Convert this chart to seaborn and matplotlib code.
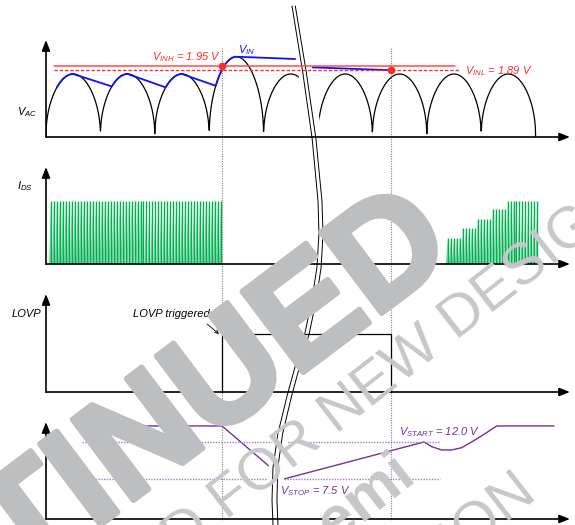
import numpy as np
import pandas as pd
import matplotlib
matplotlib.use("Agg")
import matplotlib.pyplot as plt
import matplotlib.transforms as mtransforms
import matplotlib.patheffects as pe
import seaborn as sns

# ---------------- data (time unit = one rectified line half-cycle) ----------------
vac_crest_v = [1.84, 1.84, 1.84, 2.07, 1.84, 1.84, 1.84, 1.84, 1.84]
vac_floor_v = 1.0

vin_join_t = [0.20, 1.21, 2.20, 3.12]      # where V_IN rides on V_AC again
vin_hold_end_t = 4.58
vin_hold_end_v = 2.04
vin_late_t = [4.85, 6.34]
vin_late_v = [1.93, 1.89]

v_inh = 1.95
v_inl = 1.89
t_lovp_on = 3.235
t_lovp_off = 6.34

ids_left_count = 58
ids_left_start_t = 0.055
ids_period_t = 0.0548
ids_left_level = 1.0
ids_right_start_t = 7.35
ids_right_counts = [5, 5, 5, 5, 11]
ids_right_levels = [0.41, 0.57, 0.72, 0.87, 1.0]

lovp_t = [3.235, 3.235, 6.34, 6.34]
lovp_v = [0, 1, 1, 0]

vcc_t = [0.643, 3.235, 4.375, 6.949, 7.09, 7.274, 7.458, 7.642, 7.886, 8.125, 8.285, 9.338]
vcc_v = [13.95, 13.95, 7.5, 12.0, 11.43, 11.03, 11.03, 11.31, 12.24, 13.25, 13.95, 13.95]
v_start = 12.0
v_stop = 7.5

# ---------------- style ----------------
sns.set_theme(style="white")
plt.rcParams["font.family"] = ["Liberation Sans", "DejaVu Sans"]
plt.rcParams["mathtext.fontset"] = "custom"
plt.rcParams["mathtext.it"] = "Liberation Sans:italic"
plt.rcParams["mathtext.rm"] = "Liberation Sans:italic"
plt.rcParams["mathtext.default"] = "it"

RED = "#ff2a2a"
BLUE = "#1010ff"
GREEN = "#00b050"
PURPLE = "#7030a0"
PURPLE_L = "#a378d0"
WM = "#bdbec0"
WM2 = "#c6c7c9"

W, H = 575, 525
fig = plt.figure(figsize=(5.75, 5.25), dpi=100)
fig.patch.set_facecolor("white")


def px_axes(l, r, t, b):
    return fig.add_axes([l / W, 1 - b / H, (r - l) / W, (b - t) / H])


T_MAX = (570 - 46) / 54.4
ax1 = px_axes(46, 570, 40, 137)
ax2 = px_axes(46, 570, 167, 264)
ax3 = px_axes(46, 570, 294, 392)
ax4 = px_axes(46, 570, 422, 519)
limits = [(1.0, 2.293), (0, 1.54), (0, 1.69), (2.633, 14.43)]
for ax, yl in zip([ax1, ax2, ax3, ax4], limits):
    ax.set_xlim(0, T_MAX)
    ax.set_ylim(*yl)
    ax.axis("off")
    ax.patch.set_alpha(0)


def vac(t):
    t = np.asarray(t, dtype=float)
    k = np.clip(np.floor(t).astype(int), 0, len(vac_crest_v) - 1)
    u = t - k
    crest = np.array(vac_crest_v)[k]
    return vac_floor_v + (crest - vac_floor_v) * np.clip(np.sin(np.pi * u), 0, None) ** 0.45


# ---- panel 1: V_AC and V_IN ----
tt = np.linspace(0, len(vac_crest_v), 2400)
sns.lineplot(x=tt, y=vac(tt), ax=ax1, color="black", lw=0.9, estimator=None, sort=False)

vin_x, vin_y = [], []
for i, tj in enumerate(vin_join_t):
    k = int(np.floor(tj))
    seg = np.linspace(tj, k + 0.5, 40)
    vin_x += list(seg)
    vin_y += list(vac(seg))
    if i + 1 < len(vin_join_t):
        nxt = vin_join_t[i + 1]
        vin_x.append(nxt)
        vin_y.append(float(vac(nxt)))
    else:
        vin_x.append(vin_hold_end_t)
        vin_y.append(vin_hold_end_v)
sns.lineplot(x=vin_x, y=vin_y, ax=ax1, color=BLUE, lw=1.3, estimator=None, sort=False)
sns.lineplot(x=vin_late_t, y=vin_late_v, ax=ax1, color=BLUE, lw=1.3, estimator=None, sort=False)

# ---- panel 2: I_DS pulses ----
def pulse_poly(starts, levels, w):
    xs, ys = [], []
    for s, h in zip(starts, levels):
        xs += [s, s + w, s + w]
        ys += [0, h, 0]
    return xs, ys


w = ids_period_t * 0.7
left_starts = [ids_left_start_t + i * ids_period_t for i in range(ids_left_count)]
left_levels = [ids_left_level] * ids_left_count
right_starts, right_levels = [], []
s = ids_right_start_t
for n, lv in zip(ids_right_counts, ids_right_levels):
    for _ in range(n):
        right_starts.append(s)
        right_levels.append(lv)
        s += ids_period_t
for st, lv in [(left_starts, left_levels), (right_starts, right_levels)]:
    xs, ys = pulse_poly(st, lv, w)
    ax2.fill(xs, ys, color=GREEN, alpha=0.55, lw=0)
    ax2.vlines([x + w for x in st], 0, lv, color=GREEN, lw=1.0)

# ---- panel 4: VCC ----
sns.lineplot(x=vcc_t, y=vcc_v, ax=ax4, color=PURPLE, lw=1.0, estimator=None, sort=False)
ax4.plot([0.66, 7.25], [v_start, v_start], color=PURPLE_L, lw=1.0, ls=(0, (1, 1)))
ax4.plot([0.49, 7.25], [v_stop, v_stop], color=PURPLE_L, lw=1.0, ls=(0, (1, 1)))

# ---------------- overlay (pixel coordinates) ----------------
ov = fig.add_axes([0, 0, 1, 1], zorder=10)
ov.patch.set_alpha(0)
ov.set_autoscale_on(False)
ov.set_xlim(0, W)
ov.set_ylim(H, 0)
ov.axis("off")

# vertical dotted markers
blend = mtransforms.blended_transform_factory(ax1.transData, ov.transData)
for tv in [t_lovp_on, t_lovp_off]:
    ov.plot([tv, tv], [48, 520], transform=blend, color="#808080", lw=0.8,
            ls=(0, (1, 1.2)), zorder=1)

# time-axis break
break_y = [6, 67, 137, 200, 233, 267, 300, 333, 360, 392, 433, 467, 500, 525]
break_x = [292, 302, 312, 318, 319, 317, 312, 305, 297, 288, 278, 273, 272, 273]
yg = np.linspace(6, 525, 400)
cx = np.interp(yg, break_y, break_x)
sep = np.interp(yg, [0, 525], [3.3, 5.0])
ov.fill_betweenx(yg, cx - 5, cx + sep + 6, color="white", lw=0, zorder=2)
ov.plot(cx, yg, color="black", lw=0.7, zorder=3)
ov.plot(cx + sep, yg, color="black", lw=0.7, zorder=3)

# thresholds (drawn over the break)
ov.plot([0.147, 7.52], [v_inh, v_inh], transform=ax1.transData, color="#ff4a4a", lw=1.1, zorder=4)
ov.plot([0.147, 7.61], [v_inl, v_inl], transform=ax1.transData, color=RED, lw=1.0,
        ls=(0, (2.4, 1.4)), zorder=4)
ov.plot([t_lovp_on, t_lovp_off], [v_inh, v_inl], "o", transform=ax1.transData,
        color=RED, ms=4.5, zorder=5)

# LOVP step
ov.plot(lovp_t, lovp_v, transform=ax3.transData, color="black", lw=0.9, zorder=4)

# axes with arrow heads
for ax in [ax1, ax2, ax3, ax4]:
    for xy in [(0, 1), (1, 0)]:
        ov.annotate("", xy=xy, xycoords=ax.transAxes, xytext=(0, 0), textcoords=ax.transAxes,
                    arrowprops=dict(arrowstyle="-|>,head_length=0.9,head_width=0.35",
                                    lw=1.2, color="black", shrinkA=0, shrinkB=0,
                                    mutation_scale=7),
                    annotation_clip=False, zorder=4)

# labels
tk = dict(fontsize=8, style="italic", va="baseline", ha="left", zorder=6)
ov.text(17, 115, r"$V_{AC}$", color="black", **tk)
ov.text(17, 189, r"$I_{DS}$", color="black", **tk)
ov.text(12, 317, "LOVP", color="black", **tk)
ov.text(133, 317, "LOVP triggered", color="black", **tk)
ov.annotate("", xy=(219, 334), xytext=(207, 324),
            arrowprops=dict(arrowstyle="->", lw=0.6, color="black", shrinkA=0, shrinkB=0,
                            mutation_scale=6), zorder=6)
ov.text(152, 60, r"$V_{INH}$ = 1.95 V", color=RED, **tk)
ov.text(238, 53, r"$V_{IN}$", color=BLUE, **tk)
ov.text(465, 74, r"$V_{INL}$ = 1.89 V", color=RED, **tk)
ov.text(399, 435, r"$V_{START}$ = 12.0 V", color=PURPLE, **tk)
ov.text(280, 494, r"$V_{STOP}$ = 7.5 V", color=PURPLE, **tk)

# document watermark
wk = dict(rotation_mode="anchor", va="baseline", zorder=9)
ov.text(459, 255, "DISCONTINUED", fontsize=106, fontweight="bold", color=WM,
        rotation=37, ha="right",
        path_effects=[pe.withStroke(linewidth=4, foreground=WM)], **wk)
ov.text(227, 521, "FOR NEW DESIGN", fontsize=42, color=WM2, rotation=38, ha="left", **wk)
ov.text(227, 521, "NOT RECOMMENDED ", fontsize=42, color=WM2, rotation=38, ha="right", **wk)
ov.text(418, 478, "onsemi", fontsize=44, fontweight="bold", color=WM2, rotation=38,
        ha="right", **wk)
ov.text(538, 494, "INFORMATION", fontsize=42, color=WM2, rotation=38, ha="right", **wk)

fig.savefig("out.png", dpi=100)
